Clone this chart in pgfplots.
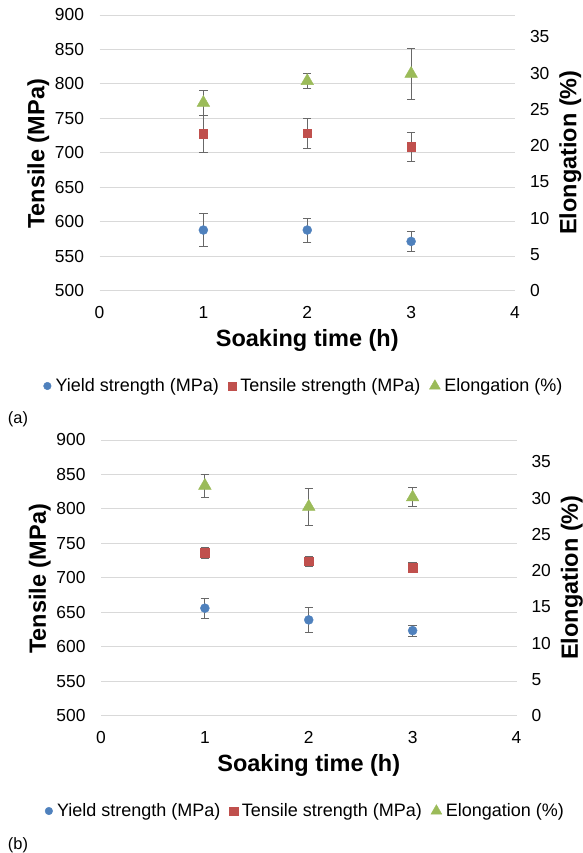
\documentclass[border=0pt]{standalone}
\usepackage{fontspec}
\setmainfont{Liberation Sans}
\usepackage{pgfplots}
\pgfplotsset{compat=1.18}

\definecolor{ysc}{HTML}{4F81BD}
\definecolor{tsc}{HTML}{C0504D}
\definecolor{elc}{HTML}{9BBB59}
\definecolor{gridc}{HTML}{D9D9D9}
\definecolor{errc}{HTML}{686868}

\pgfplotsset{
  base/.style={
    scale only axis, width=415.5pt, height=275.7pt,
    xmin=0, xmax=4, anchor=south west,
    axis line style={draw=none}, major tick length=0pt,
    tick label style={font=\fontsize{17.4}{20}\selectfont},
    /pgf/number format/assume math mode=true,
    label style={font=\fontsize{23.5}{27}\selectfont\bfseries},
  },
  leftax/.style={
    base,
    ymin=500, ymax=900, ytick={500,550,...,900}, xtick={0,1,2,3,4},
    ymajorgrids, grid style={draw=gridc, line width=0.9pt},
    yticklabel style={xshift=-12pt}, xticklabel style={yshift=-12pt},
    xlabel={Soaking time (h)}, ylabel={Tensile (MPa)},
    xlabel style={at={(axis description cs:0.5,-0.179)}, anchor=center},
    ylabel style={at={(axis description cs:-0.1473,0.496)}, anchor=center},
    legend columns=3,
    legend image code/.code={%
      \path (-4pt,0pt) (4pt,0pt);
      \draw[##1] plot coordinates {(0pt,0pt)};},
    legend style={draw=none, fill=none, at={(axis description cs:0.4917,-0.3457)},
      anchor=center, font=\fontsize{18}{21}\selectfont,
      /tikz/every odd column/.append style={column sep=2pt},
      /tikz/every even column/.append style={column sep=7pt}},
  },
  rightax/.style={
    base, hide x axis, axis y line*=right,
    ymin=0, ymax=38, ytick={0,5,...,35},
    yticklabel style={xshift=11.5pt},
    ylabel={Elongation (\%)},
    ylabel style={at={(axis description cs:1.133,0.501)}, anchor=center},
  },
  pts/.style={only marks, forget plot,
    error bars/y dir=both, error bars/y explicit,
    error bars/error bar style={line width=0.8pt, color=errc},
    error bars/error mark options={rotate=90, mark size=4.2pt, line width=0.8pt, color=errc}},
  ys/.style={mark=*, mark size=4.5pt, color=ysc},
  ts/.style={mark=square*, mark size=4.2pt, color=tsc},
  el/.style={mark=triangle*, mark size=7.3pt, color=elc},
}

\begin{document}
\begin{tikzpicture}
\useasboundingbox (0,0) rectangle (582pt,853pt);

% ---------- (a) ----------
\begin{axis}[leftax, at={(99.5pt,562.3pt)}]
\addplot[pts, ys] coordinates {(1,588) +- (0,23.5) (2,588) +- (0,17.6) (3,571.5) +- (0,14.3)};
\addplot[pts, ts] coordinates {(1,727.6) +- (0,27.3) (2,728.5) +- (0,21.7) (3,709) +- (0,20.8)};
\addlegendimage{only marks, mark=*, mark size=3.8pt, color=ysc}
\addlegendentry{Yield strength (MPa)}
\addlegendimage{only marks, mark=square*, mark size=4.2pt, color=tsc}
\addlegendentry{Tensile strength (MPa)}
\addlegendimage{only marks, mark=triangle*, mark size=6.3pt, color=elc}
\addlegendentry{Elongation (\%)}
\end{axis}
\begin{axis}[rightax, at={(99.5pt,562.3pt)}]
\addplot[pts, el] coordinates {(1,25.9) +- (0,1.75) (2,28.9) +- (0,1.0) (3,29.9) +- (0,3.5)};
\end{axis}
\node[font=\fontsize{16.4}{19}\selectfont] at (18pt,434pt) {(a)};

% ---------- (b) ----------
\begin{axis}[leftax, at={(101pt,137.3pt)}]
\addplot[pts, ys] coordinates {(1,656) +- (0,14.3) (2,639) +- (0,17.5) (3,623.5) +- (0,8)};
\addplot[pts, ts] coordinates {(1,736.2) +- (0,7.8) (2,724) +- (0,6.9) (3,715) +- (0,6.7)};
\addlegendimage{only marks, mark=*, mark size=3.8pt, color=ysc}
\addlegendentry{Yield strength (MPa)}
\addlegendimage{only marks, mark=square*, mark size=4.2pt, color=tsc}
\addlegendentry{Tensile strength (MPa)}
\addlegendimage{only marks, mark=triangle*, mark size=6.3pt, color=elc}
\addlegendentry{Elongation (\%)}
\end{axis}
\begin{axis}[rightax, at={(101pt,137.3pt)}]
\addplot[pts, el] coordinates {(1,31.7) +- (0,1.6) (2,28.8) +- (0,2.55) (3,30.1) +- (0,1.3)};
\end{axis}
\node[font=\fontsize{16.4}{19}\selectfont] at (18pt,8pt) {(b)};
\end{tikzpicture}
\end{document}
